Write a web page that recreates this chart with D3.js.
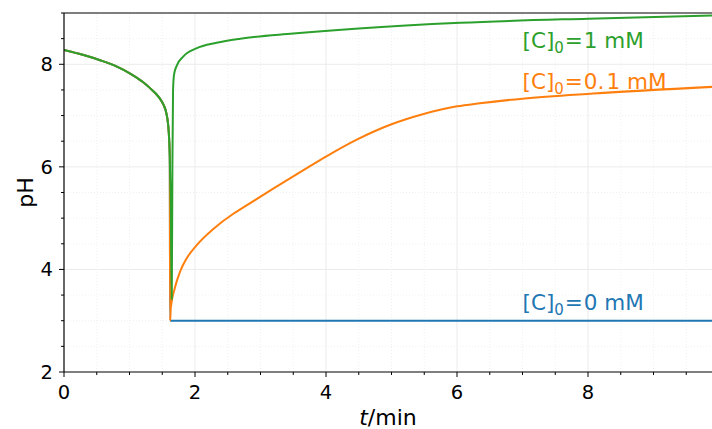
<!DOCTYPE html>
<html>
<head>
<meta charset="utf-8">
<script src="https://cdn.jsdelivr.net/npm/d3@7"></script>
<style>
  html, body { margin: 0; padding: 0; background: #fff; }
  svg { display: block; font-family: "DejaVu Sans", sans-serif; }
</style>
</head>
<body>
<svg width="712" height="429"></svg>
<script>
const WIDTH = 712, HEIGHT = 429;
const MARGIN = { left: 64, top: 13, bottom: 57 };

// shared part: pH falls until the acid front hits
const tDecline = [0, 0.3, 0.55, 0.8, 1.01, 1.2, 1.31, 1.4, 1.47, 1.52, 1.56, 1.59, 1.605, 1.615];
const pHDecline = [8.28, 8.18, 8.08, 7.96, 7.82, 7.66, 7.54, 7.43, 7.32, 7.21, 7.06, 6.82, 6.55, 6.2];

// [C]0 = 0 mM
const tBlue = [1.62, 9.9];
const pHBlue = [3.0, 3.0];

// [C]0 = 0.1 mM
const tOrange = [1.62, 1.63, 1.69, 1.77, 1.87, 2.03, 2.28, 2.58, 2.69, 3.2, 3.7, 4.0, 4.47, 4.98, 5.49, 6.0, 6.35, 7.0, 8.08, 9.9];
const pHOrange = [3.0, 3.25, 3.63, 3.95, 4.21, 4.48, 4.79, 5.08, 5.17, 5.58, 5.97, 6.20, 6.53, 6.82, 7.03, 7.18, 7.24, 7.33, 7.43, 7.56];

// [C]0 = 1 mM
const tGreen = [1.63, 1.645, 1.655, 1.665, 1.68, 1.72, 1.82, 2.02, 2.33, 2.69, 3.5, 4.5, 6.05, 8.0, 9.9];
const pHGreen = [5.2, 3.42, 6.0, 7.5, 7.8, 7.97, 8.15, 8.31, 8.42, 8.50, 8.60, 8.70, 8.81, 8.89, 8.95];

const seriesNames = ["0", "0.1", "1"];
const seriesColors = ["#1f77b4", "#ff7f0e", "#2ca02c"];
const labelPH = [3.2, 7.52, 8.32];
const labelT = 7.0;

const xTicks = [0, 2, 4, 6, 8];
const yTicks = [2, 4, 6, 8];

const svg = d3.select("svg");

const x = d3.scaleLinear().domain([0, 10]).range([MARGIN.left, MARGIN.left + 655]);
const y = d3.scaleLinear().domain([2, 9]).range([HEIGHT - MARGIN.bottom, MARGIN.top]);

const x0 = MARGIN.left, x1 = WIDTH, y0 = HEIGHT - MARGIN.bottom, y1 = MARGIN.top;

const xMinor = d3.range(0.5, 10, 0.5).filter(d => d % 2 !== 0 && x(d) < x1);
const yMinor = d3.range(2.5, 9.01, 0.5).filter(d => d % 2 !== 0);

// grid, minor first
const grid = svg.append("g");
grid.selectAll(".xminor").data(xMinor).enter().append("line")
  .attr("x1", d => x(d)).attr("x2", d => x(d)).attr("y1", y0).attr("y2", y1)
  .attr("stroke", "#ececec").attr("stroke-width", 0.8).attr("stroke-dasharray", "1,2");
grid.selectAll(".yminor").data(yMinor).enter().append("line")
  .attr("x1", x0).attr("x2", x1).attr("y1", d => y(d)).attr("y2", d => y(d))
  .attr("stroke", "#ececec").attr("stroke-width", 0.8).attr("stroke-dasharray", "1,2");
grid.selectAll(".xmajor").data(xTicks.slice(1)).enter().append("line")
  .attr("x1", d => x(d)).attr("x2", d => x(d)).attr("y1", y0).attr("y2", y1)
  .attr("stroke", "#ebebeb").attr("stroke-width", 1);
grid.selectAll(".ymajor").data(yTicks.slice(1)).enter().append("line")
  .attr("x1", x0).attr("x2", x1).attr("y1", d => y(d)).attr("y2", d => y(d))
  .attr("stroke", "#ebebeb").attr("stroke-width", 1);

// curves
svg.append("clipPath").attr("id", "plot")
  .append("rect").attr("x", x0).attr("y", y1).attr("width", x1 - x0).attr("height", y0 - y1);

const line = d3.line()
  .x(d => x(d[0]))
  .y(d => y(d[1]))
  .curve(d3.curveMonotoneX);

const zip = (ts, ps) => ts.map((t, i) => [t, ps[i]]);
const decline = zip(tDecline, pHDecline);
const series = [
  decline.concat(zip(tBlue, pHBlue)),
  decline.concat(zip(tOrange, pHOrange)),
  decline.concat(zip(tGreen, pHGreen))
];

svg.append("g").attr("clip-path", "url(#plot)")
  .selectAll("path").data(series).enter().append("path")
  .attr("d", line)
  .attr("fill", "none")
  .attr("stroke", (d, i) => seriesColors[i])
  .attr("stroke-width", 2)
  .attr("stroke-linejoin", "round");

// spines
svg.append("line").attr("x1", x0).attr("x2", x1).attr("y1", y0).attr("y2", y0).attr("stroke", "#000").attr("stroke-width", 1.2);
svg.append("line").attr("x1", x0).attr("x2", x1).attr("y1", y1).attr("y2", y1).attr("stroke", "#000").attr("stroke-width", 1.2);
svg.append("line").attr("x1", x0).attr("x2", x0).attr("y1", y0).attr("y2", y1).attr("stroke", "#000").attr("stroke-width", 1.2);

// ticks
const ticks = svg.append("g").attr("stroke", "#000").attr("stroke-width", 1);
ticks.selectAll(".xt").data(xTicks).enter().append("line")
  .attr("x1", d => x(d)).attr("x2", d => x(d)).attr("y1", y0).attr("y2", y0 + 5);
ticks.selectAll(".xm").data(xMinor).enter().append("line")
  .attr("x1", d => x(d)).attr("x2", d => x(d)).attr("y1", y0).attr("y2", y0 + 3);
ticks.selectAll(".yt").data(yTicks).enter().append("line")
  .attr("x1", x0 - 5).attr("x2", x0).attr("y1", d => y(d)).attr("y2", d => y(d));
ticks.selectAll(".ym").data(yMinor).enter().append("line")
  .attr("x1", x0 - 3).attr("x2", x0).attr("y1", d => y(d)).attr("y2", d => y(d));

svg.append("g").selectAll("text").data(xTicks).enter().append("text")
  .attr("x", d => x(d)).attr("y", y0 + 27)
  .attr("text-anchor", "middle").attr("font-size", 19.5)
  .text(d => d);
svg.append("g").selectAll("text").data(yTicks).enter().append("text")
  .attr("x", x0 - 11).attr("y", d => y(d)).attr("dy", "0.36em")
  .attr("text-anchor", "end").attr("font-size", 19.5)
  .text(d => d);

// axis labels
const xLabel = svg.append("text")
  .attr("x", (x0 + x1) / 2).attr("y", 425)
  .attr("text-anchor", "middle").attr("font-size", 22);
xLabel.append("tspan").attr("font-style", "italic").text("t");
xLabel.append("tspan").text("/min");

svg.append("text")
  .attr("transform", "translate(33," + (y0 + y1) / 2 + ") rotate(-90)")
  .attr("text-anchor", "middle").attr("font-size", 22)
  .text("pH");

// series labels
seriesNames.forEach((name, i) => {
  const t = svg.append("text")
    .attr("x", x(labelT)).attr("y", y(labelPH[i]))
    .attr("font-size", 21.5).attr("fill", seriesColors[i]);
  t.append("tspan").text("[C]");
  t.append("tspan").attr("font-size", 15).attr("dy", 5).text("0");
  t.append("tspan").attr("dy", -5).attr("dx", 1).text("=");
  t.append("tspan").attr("dx", 1).text(name.replace(".", ".\u200a") + " mM");
});
</script>
</body>
</html>
